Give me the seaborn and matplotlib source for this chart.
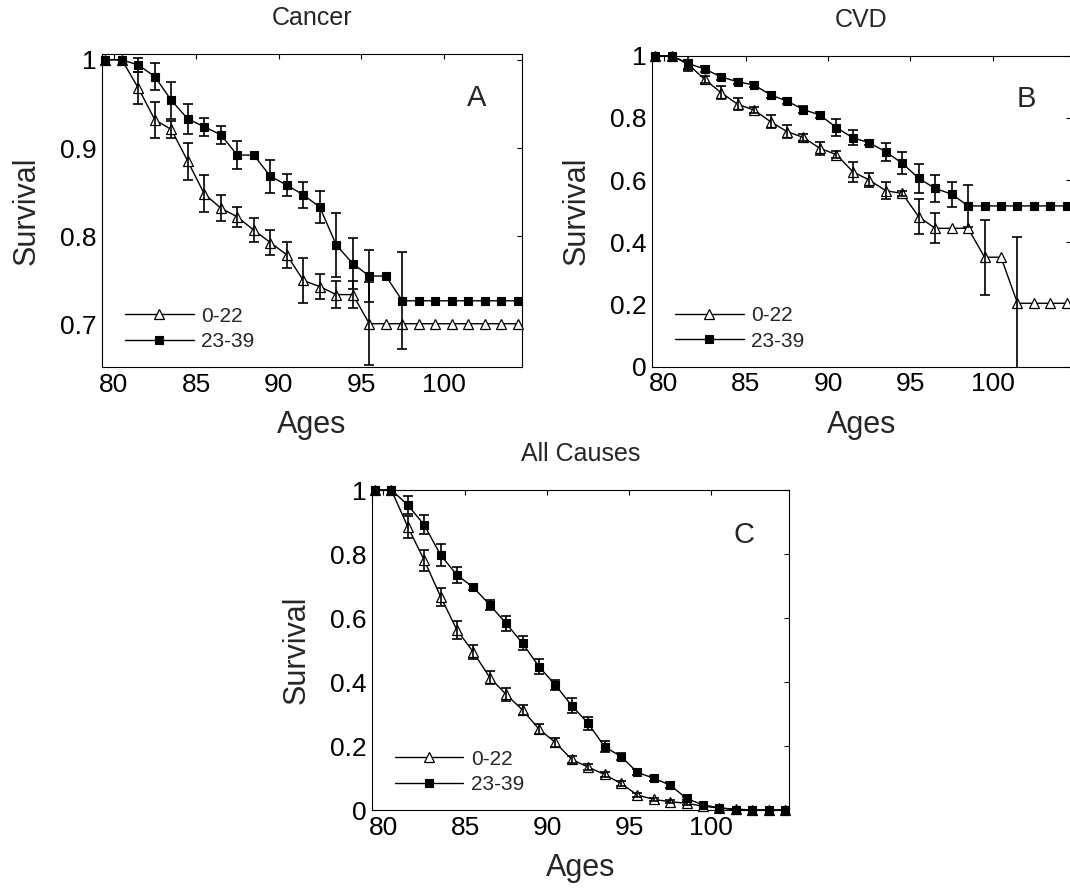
import numpy as np
import pandas as pd
import matplotlib
matplotlib.use("Agg")
import matplotlib.pyplot as plt
from matplotlib.ticker import FuncFormatter
import seaborn as sns

# -----------------------------------------------------------
# DATA

ages = [79.5 + k for k in range(26)]
groups = ["0-22", "23-39"]

# Cancer
cancer_young = [1.0, 1.0, 0.968, 0.932, 0.921, 0.885, 0.848, 0.832, 0.822, 0.807,
                0.793, 0.779, 0.750, 0.743, 0.734, 0.734, 0.701, 0.701, 0.701, 0.701,
                0.701, 0.701, 0.701, 0.701, 0.701, 0.701]
cancer_young_err = [0, 0, 0.0185, 0.0205, 0.0094, 0.021, 0.021, 0.0147, 0.0117, 0.0137,
                    0.0137, 0.0147, 0.026, 0.0145, 0.0157, 0.015, 0.047, 0, 0, 0,
                    0, 0, 0, 0, 0, 0]
cancer_old = [1.0, 1.0, 0.994, 0.981, 0.954, 0.933, 0.924, 0.915, 0.892, 0.892,
              0.868, 0.858, 0.847, 0.833, 0.790, 0.769, 0.755, 0.755, 0.727, 0.727,
              0.727, 0.727, 0.727, 0.727, 0.727, 0.727]
cancer_old_err = [0, 0, 0.008, 0.0155, 0.021, 0.0166, 0.0104, 0.0104, 0.016, 0,
                  0.019, 0.0127, 0.0147, 0.018, 0.036, 0.029, 0.029, 0, 0.055, 0,
                  0, 0, 0, 0, 0, 0]

# CVD
cvd_young = [1.0, 1.0, 0.972, 0.924, 0.881, 0.844, 0.825, 0.788, 0.756, 0.737,
             0.702, 0.682, 0.627, 0.600, 0.566, 0.557, 0.482, 0.445, 0.445, 0.445,
             0.352, 0.352, 0.204, 0.204, 0.204, 0.204]
cvd_young_err = [0, 0, 0.015, 0.011, 0.021, 0.019, 0.01, 0.02, 0.02, 0.012,
                 0.021, 0.01, 0.032, 0.023, 0.028, 0.008, 0.056, 0.048, 0, 0,
                 0.12, 0, 0.212, 0, 0, 0]
cvd_old = [1.0, 1.0, 0.975, 0.957, 0.932, 0.916, 0.906, 0.874, 0.854, 0.827,
           0.809, 0.769, 0.736, 0.720, 0.691, 0.654, 0.606, 0.573, 0.555, 0.517,
           0.517, 0.517, 0.517, 0.517, 0.517, 0.517]
cvd_old_err = [0, 0, 0.024, 0.01, 0.01, 0.008, 0.008, 0.01, 0.01, 0.01,
               0.01, 0.027, 0.024, 0.008, 0.028, 0.035, 0.047, 0.043, 0.040, 0.068,
               0, 0, 0, 0, 0, 0]

# All causes
all_young = [1.0, 1.0, 0.885, 0.781, 0.667, 0.5625, 0.493, 0.414, 0.361, 0.3125,
             0.253, 0.211, 0.158, 0.134, 0.111, 0.083, 0.047, 0.033, 0.026, 0.021,
             0.012, 0.006, 0.003, 0.0, 0.0, 0.0]
all_young_err = [0, 0, 0.035, 0.033, 0.028, 0.027, 0.022, 0.02, 0.02, 0.015,
                 0.015, 0.015, 0.012, 0.01, 0.008, 0.008, 0.006, 0.006, 0.005, 0.004,
                 0, 0, 0, 0, 0, 0]
all_old = [1.0, 1.0, 0.953, 0.891, 0.797, 0.734, 0.696, 0.641, 0.583, 0.521,
           0.448, 0.391, 0.326, 0.271, 0.198, 0.167, 0.118, 0.099, 0.078, 0.036,
           0.016, 0.007, 0.0, 0.0, 0.0, 0.0]
all_old_err = [0, 0, 0.028, 0.03, 0.033, 0.026, 0.01, 0.015, 0.023, 0.022,
               0.024, 0.015, 0.023, 0.02, 0.018, 0.01, 0.01, 0.008, 0.008, 0.006,
               0, 0, 0, 0, 0, 0]

x_ticks = [80, 85, 90, 95, 100]
cancer_yticks = [0.7, 0.8, 0.9, 1.0]
cvd_yticks = [0, 0.2, 0.4, 0.6, 0.8, 1.0]
all_yticks = [0, 0.2, 0.4, 0.6, 0.8, 1.0]

# -----------------------------------------------------------
# STYLE

sns.set_theme(style="white")
plt.rcParams["font.family"] = ["Liberation Sans", "DejaVu Sans"]

fig = plt.figure(figsize=(10.7, 8.88), dpi=100)

W, H = 1070.0, 888.0

def add_axes(left, top, right, bottom):
    return fig.add_axes([left / W, 1 - bottom / H, (right - left) / W, (bottom - top) / H])

ax_a = add_axes(102, 54, 522, 367)
ax_b = add_axes(652, 55.7, 1071, 366.7)
ax_c = add_axes(371.7, 490, 789, 810)

panels = [
    (ax_a, "Cancer", "A", cancer_young, cancer_young_err, cancer_old, cancer_old_err,
     (0.652, 1.0065), cancer_yticks),
    (ax_b, "CVD", "B", cvd_young, cvd_young_err, cvd_old, cvd_old_err,
     (0.0, 1.0), cvd_yticks),
    (ax_c, "All Causes", "C", all_young, all_young_err, all_old, all_old_err,
     (0.0, 1.0), all_yticks),
]

for ax, title, letter, yv, ye, ov, oe, ylim, yticks in panels:
    df = pd.DataFrame({"age": ages, "young": yv, "young_err": ye,
                       "old": ov, "old_err": oe})

    sns.lineplot(data=df, x="age", y="young", ax=ax, color="black", lw=1.0,
                 marker="^", ms=7.5, mfc="white", mec="black", mew=0.9,
                 errorbar=None, label=groups[0], zorder=3, clip_on=False)
    sns.lineplot(data=df, x="age", y="old", ax=ax, color="black", lw=1.0,
                 marker="s", ms=6.3, mfc="black", mec="black", mew=0.8,
                 errorbar=None, label=groups[1], zorder=3, clip_on=False)

    for col in ["young", "old"]:
        sub = df[df[col + "_err"] > 0]
        ax.errorbar(sub["age"], sub[col], yerr=sub[col + "_err"], fmt="none",
                    ecolor="black", elinewidth=1.2, capsize=3.6, capthick=1.2,
                    zorder=4)

    ax.set_xlim(79.3, 104.75)
    ax.set_ylim(*ylim)
    ax.set_xticks(x_ticks)
    ax.set_yticks(yticks)
    ax.yaxis.set_major_formatter(FuncFormatter(lambda v, p: "%g" % round(v, 3)))
    ax.tick_params(direction="in", top=True, right=True, length=3.6, width=0.8,
                   colors="black", labelsize=19, pad=4)
    for s in ax.spines.values():
        s.set_color("black")
        s.set_linewidth(0.8)
        s.set_visible(True)

    pos = ax.get_position()
    h_px = pos.height * H
    w_px = pos.width * W
    ax.set_xlabel("Ages", fontsize=22, va="center")
    ax.set_ylabel("Survival", fontsize=22, va="center")
    ax.xaxis.set_label_coords(0.5, -58 / h_px)
    ax.yaxis.set_label_coords(-75 / w_px, 0.5)

    ax.text(0.5, 1 + 36 / h_px, title, transform=ax.transAxes, ha="center",
            va="center", fontsize=18)
    ax.text(0.893, 0.86, letter, transform=ax.transAxes, ha="center",
            va="center", fontsize=21)

    ax.legend(loc="lower left", bbox_to_anchor=(23 / w_px, 16 / h_px),
              frameon=False, fontsize=15, handlelength=3.3, numpoints=1,
              borderpad=0, borderaxespad=0, handletextpad=0.35,
              labelspacing=0.3)

fig.savefig("out.png", dpi=100, facecolor="white")
